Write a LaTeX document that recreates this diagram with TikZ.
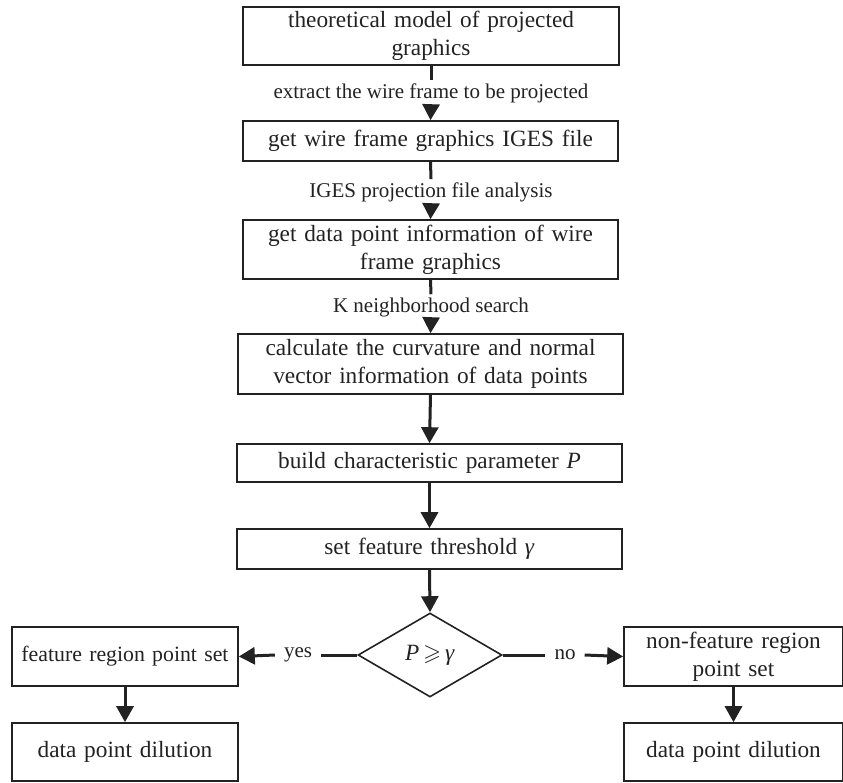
\documentclass[tikz,border=0pt]{standalone}
\usepackage{amssymb}
\usepackage{fontspec}
\setmainfont{Liberation Serif}
\usetikzlibrary{arrows.meta,shapes.geometric}
\definecolor{ink}{HTML}{222222}
\begin{document}
\begin{tikzpicture}[x=1pt,y=-1pt,
  box/.style={draw=ink,line width=1.6pt,inner sep=0pt,align=center,text=ink,
    font=\fontsize{23.3}{28}\selectfont},
  lbl/.style={inner xsep=9pt,inner ysep=3pt,text=ink,font=\fontsize{21}{24}\selectfont},
  conn/.style={draw=ink,line width=3pt},
  arr/.style={conn,-{Triangle[length=16pt,width=17pt]}}]
\useasboundingbox (0,0) rectangle (843,782);
\node[box,minimum width=376pt,minimum height=58pt,text width=370pt] (b1) at (431,36) {theoretical model of projected\\graphics};
\node[box,minimum width=375pt,minimum height=40pt,text width=370pt] (b2) at (430.5,141) {get wire frame graphics IGES file};
\node[box,minimum width=375pt,minimum height=59pt,text width=370pt] (b3) at (430.5,249.5) {get data point information of wire\\frame graphics};
\node[box,minimum width=385pt,minimum height=60pt,text width=380pt] (b4) at (430.5,364) {calculate the curvature and normal\\vector information of data points};
\node[box,minimum width=385pt,minimum height=38pt,text width=380pt] (b5) at (429.5,463) {build characteristic parameter \textit{P}};
\node[box,minimum width=385pt,minimum height=40pt,text width=380pt] (b6) at (429.5,549) {set feature threshold \textit{γ}};
\node[draw=ink,line width=1.6pt,diamond,aspect=1.714,inner sep=0pt,minimum width=144pt,minimum height=84pt,text=ink,font=\fontsize{23.3}{28}\selectfont] (d) at (430,655) {\textit{P}\,$\geqslant$\,\textit{γ}};
\node[box,minimum width=226pt,minimum height=59pt,text width=222pt,font=\fontsize{21.8}{28}\selectfont] (l1) at (125,656.5) {feature region point set};
\node[box,minimum width=226pt,minimum height=58pt,text width=222pt] (l2) at (125,752) {data point dilution};
\node[box,minimum width=219pt,minimum height=59pt,text width=212pt] (r1) at (733.5,656.5) {non-feature region\\point set};
\node[box,minimum width=219pt,minimum height=58pt,text width=212pt] (r2) at (733.5,752) {data point dilution};
% labels
\node[lbl] (t1) at (431,93) {extract the wire frame to be projected};
\node[lbl] (t2) at (431,192) {IGES projection file analysis};
\node[lbl] (t3) at (431,307) {K neighborhood search};
\node[lbl] (ty) at (298,655) {yes};
\node[lbl] (tn) at (565,655) {no};
% connectors
\draw[conn] (b1.south) -- (t1.north);
\draw[arr] (t1.south) -- (b2.north);
\draw[conn] (b2.south) -- (t2.north);
\draw[arr] (t2.south) -- (b3.north);
\draw[conn] (b3.south) -- (t3.north);
\draw[arr] (t3.south) -- (b4.north);
\draw[arr] (b4.south) -- (b5.north);
\draw[arr] (b5.south) -- (b6.north);
\draw[arr] (b6.south) -- (d.north);
\draw[conn] (d.west) -- (ty.east);
\draw[arr] (ty.west) -- (l1.east);
\draw[conn] (d.east) -- (tn.west);
\draw[arr] (tn.east) -- (r1.west);
\draw[arr] (l1.south) -- (l2.north);
\draw[arr] (r1.south) -- (r2.north);
\end{tikzpicture}
\end{document}
